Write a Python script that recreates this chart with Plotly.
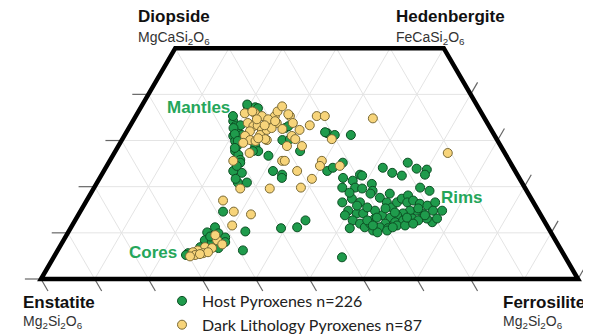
import math
import plotly.graph_objects as go

# ---- data (mol% Wo and Fs read from the quadrilateral) ----
host_wo = [37.4, 37.2, 37.0, 37.8, 34.2, 33.1, 32.0, 31.0, 29.9, 28.8, 27.7, 26.9, 25.8, 33.3, 31.2,
           28.8, 27.7, 26.7, 32.7, 33.1, 30.1, 27.7, 23.4, 22.6, 25.2, 23.0, 23.4, 31.6, 23.4, 32.7,
           31.4, 29.9, 28.4, 27.7, 30.3, 20.9, 20.9, 21.9, 24.5, 21.7, 31.8, 31.2, 31.2, 24.1, 25.2,
           22.6, 24.1, 23.0, 25.2, 23.9, 23.7, 22.6, 22.4, 19.8, 19.1, 21.9, 21.3, 22.4, 19.8, 19.8,
           20.6, 19.1, 16.6, 17.4, 16.6, 14.8, 14.2, 14.2, 12.7, 12.0, 12.0, 13.1, 13.8, 17.6, 18.5,
           16.6, 15.5, 16.6, 17.4, 18.1, 16.6, 17.0, 16.3, 15.9, 16.6, 14.8, 14.8, 14.2, 14.8, 14.8,
           14.2, 13.8, 13.3, 12.0, 12.3, 12.7, 13.1, 12.7, 11.2, 11.0, 10.5, 11.2, 11.0, 10.1, 11.6,
           11.6, 12.0, 12.3, 13.1, 13.1, 12.0, 14.8, 15.5, 12.7, 11.2, 10.5, 4.7, 11.0, 18.5, 15.3,
           14.4, 15.3, 12.7, 13.3, 13.3, 13.8, 11.6, 11.2, 15.9, 13.8, 18.7, 19.6, 11.2, 10.1, 9.9,
           9.0, 8.4, 8.0, 8.0, 7.3, 6.9, 5.6, 5.6, 6.7, 14.6, 10.3, 6.2, 9.2, 5.2, 35.3]
host_fs = [19.8, 21.3, 21.9, 19.5, 18.7, 19.6, 20.5, 20.3, 21.2, 22.1, 22.3, 23.3, 24.2, 20.5, 21.8,
           25.5, 26.6, 29.0, 29.1, 29.5, 29.9, 34.4, 31.5, 33.6, 24.5, 25.9, 24.1, 37.5, 41.6, 19.5,
           20.4, 21.7, 21.9, 25.6, 31.2, 26.2, 27.9, 33.9, 24.2, 25.4, 37.0, 39.1, 42.1, 42.3, 43.6,
           48.1, 51.6, 53.9, 55.7, 58.0, 60.0, 60.2, 56.0, 60.7, 62.8, 45.3, 47.4, 48.6, 46.2, 48.6,
           51.3, 52.2, 47.8, 49.2, 51.1, 49.8, 51.7, 52.9, 51.7, 53.4, 54.9, 55.6, 56.6, 54.3, 55.7,
           56.1, 57.6, 58.0, 58.5, 59.3, 59.9, 60.8, 62.4, 64.0, 65.1, 65.6, 67.3, 64.0, 62.6, 61.3,
           60.3, 59.4, 58.4, 58.1, 59.8, 61.1, 62.6, 63.9, 57.5, 59.1, 56.6, 54.7, 52.0, 57.6, 60.5,
           62.0, 63.3, 66.7, 65.3, 67.2, 55.3, 54.8, 53.0, 42.9, 42.1, 59.2, 53.7, 39.2, 52.1, 56.5,
           58.7, 62.6, 54.4, 55.9, 61.5, 64.6, 56.0, 59.9, 50.9, 49.7, 48.1, 50.0, 26.8, 25.9, 28.1,
           29.8, 26.3, 27.8, 30.3, 29.2, 26.2, 25.9, 24.6, 29.7, 26.6, 32.9, 34.5, 26.9, 24.4, 18.1]

dark_wo = [35.9, 35.9, 35.3, 34.4, 35.3, 36.3, 37.4, 33.8, 33.8, 33.1, 33.3, 32.3, 32.0, 31.0, 30.1,
           31.2, 32.3, 32.7, 30.1, 29.9, 27.3, 29.5, 35.3, 33.8, 32.3, 31.0, 28.8, 28.8, 33.3, 35.3,
           35.3, 25.6, 25.6, 25.6, 23.4, 25.6, 24.5, 34.8, 30.3, 27.3, 24.5, 36.3, 34.6, 34.2, 30.3,
           35.7, 32.5, 30.3, 30.5, 19.6, 19.6, 19.8, 21.7, 17.0, 14.6, 14.0, 11.6, 8.4, 6.9, 6.7,
           6.2, 5.8, 5.2, 5.6, 5.8, 7.5, 5.4, 4.9, 9.5, 34.6, 33.3]
dark_fs = [20.0, 21.9, 23.5, 25.4, 25.9, 25.9, 26.2, 27.0, 21.6, 23.0, 23.7, 25.0, 22.9, 22.5, 23.9,
           25.2, 25.9, 26.6, 27.0, 25.0, 25.2, 22.9, 28.7, 30.0, 32.0, 31.2, 31.4, 34.2, 33.4, 33.7,
           35.2, 32.1, 32.6, 23.0, 36.0, 39.5, 39.7, 44.4, 39.0, 62.1, 43.4, 21.2, 25.0, 26.5, 26.6,
           28.2, 28.7, 32.2, 25.2, 27.3, 32.8, 38.5, 39.6, 25.4, 28.6, 32.1, 29.8, 28.6, 27.1, 28.5,
           26.1, 25.4, 26.1, 27.4, 28.2, 30.0, 26.9, 25.3, 27.7, 22.9, 25.0]

series_names = ["Host Pyroxenes n=226", "Dark Lithology Pyroxenes n=87"]
grid_levels = [10, 20, 30, 40, 50, 60, 70, 80, 90]
wo_ticks = [0, 10, 20, 30, 40]
fs_bottom_ticks = [0, 10, 20, 30, 40, 50, 60, 70, 80]
fs_right_ticks = [60, 70, 80, 90, 100]

S = math.sqrt(3) / 2


def xy(fs, wo):
    return fs + wo / 2.0, wo * S


def to_xy_lists(fs_list, wo_list):
    xs, ys = [], []
    for f, w in zip(fs_list, wo_list):
        x, y = xy(f, w)
        xs.append(x)
        ys.append(y)
    return xs, ys


# the page body has an 8px margin; the figure is made taller than the window
# so that the legend never pushes the bottom margin (which would squash the plot)
OFF = 8
W, H = 591 - OFF, 380


def paper(px, py):
    return (px - OFF) / W, 1 - (py - OFF) / H


shapes = []
grid_style = dict(color="#e4e4e4", width=1)
tick_style = dict(color="#666666", width=1.2)


def seg(a, b, style, layer="below"):
    (x0, y0), (x1, y1) = a, b
    shapes.append(dict(type="line", xref="x", yref="y", x0=x0, y0=y0, x1=x1, y1=y1,
                       line=style, layer=layer))


# grid: constant Wo
for w in [10, 20, 30, 40]:
    seg(xy(0, w), xy(100 - w, w), grid_style)
# grid: constant Fs
for f in grid_levels:
    seg(xy(f, 0), xy(f, min(50, 100 - f)), grid_style)
# grid: constant En
for e in grid_levels:
    s = 100 - e
    top = min(50, s)
    seg(xy(s, 0), xy(s - top, top), grid_style)

# ticks
t = 2.6
for w in wo_ticks:
    x, y = xy(0, w)
    seg((x - 3.0, y), (x, y), tick_style, "above")
for f in fs_bottom_ticks:
    seg(xy(f, 0), xy(f + t, -t), tick_style, "above")
for f in fs_right_ticks:
    w0 = 100 - f
    seg(xy(f, w0), xy(f, w0 + t), tick_style, "above")

# outline of the quadrilateral
corners = [xy(0, 0), xy(100, 0), xy(50, 50), xy(0, 50)]
path = "M " + " L ".join(f"{x},{y}" for x, y in corners) + " Z"
shapes.append(dict(type="path", xref="x", yref="y", path=path,
                   line=dict(color="black", width=4.5), layer="above"))

fig = go.Figure()
hx, hy = to_xy_lists(host_fs, host_wo)
dx, dy = to_xy_lists(dark_fs, dark_wo)
fig.add_trace(go.Scatter(x=hx, y=hy, mode="markers", name=series_names[0],
                         marker=dict(size=9, color="#1f9b4c",
                                     line=dict(color="#0c4f23", width=1))))
fig.add_trace(go.Scatter(x=dx, y=dy, mode="markers", name=series_names[1],
                         marker=dict(size=9, color="#f7d47a",
                                     line=dict(color="#7a6a35", width=1))))

ann = []


def text(s, px, py, size, color="#111111", anchor="left", family="Liberation Sans, Arial, sans-serif"):
    x, y = paper(px, py)
    ann.append(dict(text=s, x=x, y=y, xref="paper", yref="paper", xanchor=anchor,
                    yanchor="middle", showarrow=False,
                    font=dict(size=size, color=color, family=family)))


text("<b>Diopside</b>", 136, 17, 17)
text("MgCaSi<sub>2</sub>O<sub>6</sub>", 136, 38, 14, "#333333")
text("<b>Hedenbergite</b>", 394, 17, 17)
text("FeCaSi<sub>2</sub>O<sub>6</sub>", 394, 38, 14, "#333333")
text("<b>Enstatite</b>", 21, 302, 17)
text("Mg<sub>2</sub>Si<sub>2</sub>O<sub>6</sub>", 21, 322, 14, "#333333")
text("<b>Ferrosilite</b>", 501, 302, 17)
text("Mg<sub>2</sub>Si<sub>2</sub>O<sub>6</sub>", 501, 322, 14, "#333333")
lab = "#25a65a"
text("<b>Mantles</b>", 198, 107, 17, lab, "center")
text("<b>Cores</b>", 153, 252, 17, lab, "center")
text("<b>Rims</b>", 462, 197, 17, lab, "center")

lx, ly = paper(162, 284)
# X=0 at window px 41, scale 5.37 px/unit; Y=0 at window py 279, scale 5.33 px/unit
x0 = -(41 - OFF) / 5.37
y1 = (279 - OFF) / 5.33
fig.update_layout(
    width=W, height=H,
    margin=dict(l=0, r=0, t=0, b=0),
    paper_bgcolor="white", plot_bgcolor="white",
    xaxis=dict(range=[x0, x0 + W / 5.37], visible=False, fixedrange=True),
    yaxis=dict(range=[y1 - H / 5.33, y1], visible=False, fixedrange=True),
    shapes=shapes,
    annotations=ann,
    showlegend=True,
    legend=dict(x=lx, y=ly, xanchor="left", yanchor="top", bgcolor="rgba(0,0,0,0)",
                font=dict(family="Lato, Open Sans, sans-serif", size=16, color="#222222"),
                itemwidth=30, tracegroupgap=0),
)

fig.write_html("out.html")
